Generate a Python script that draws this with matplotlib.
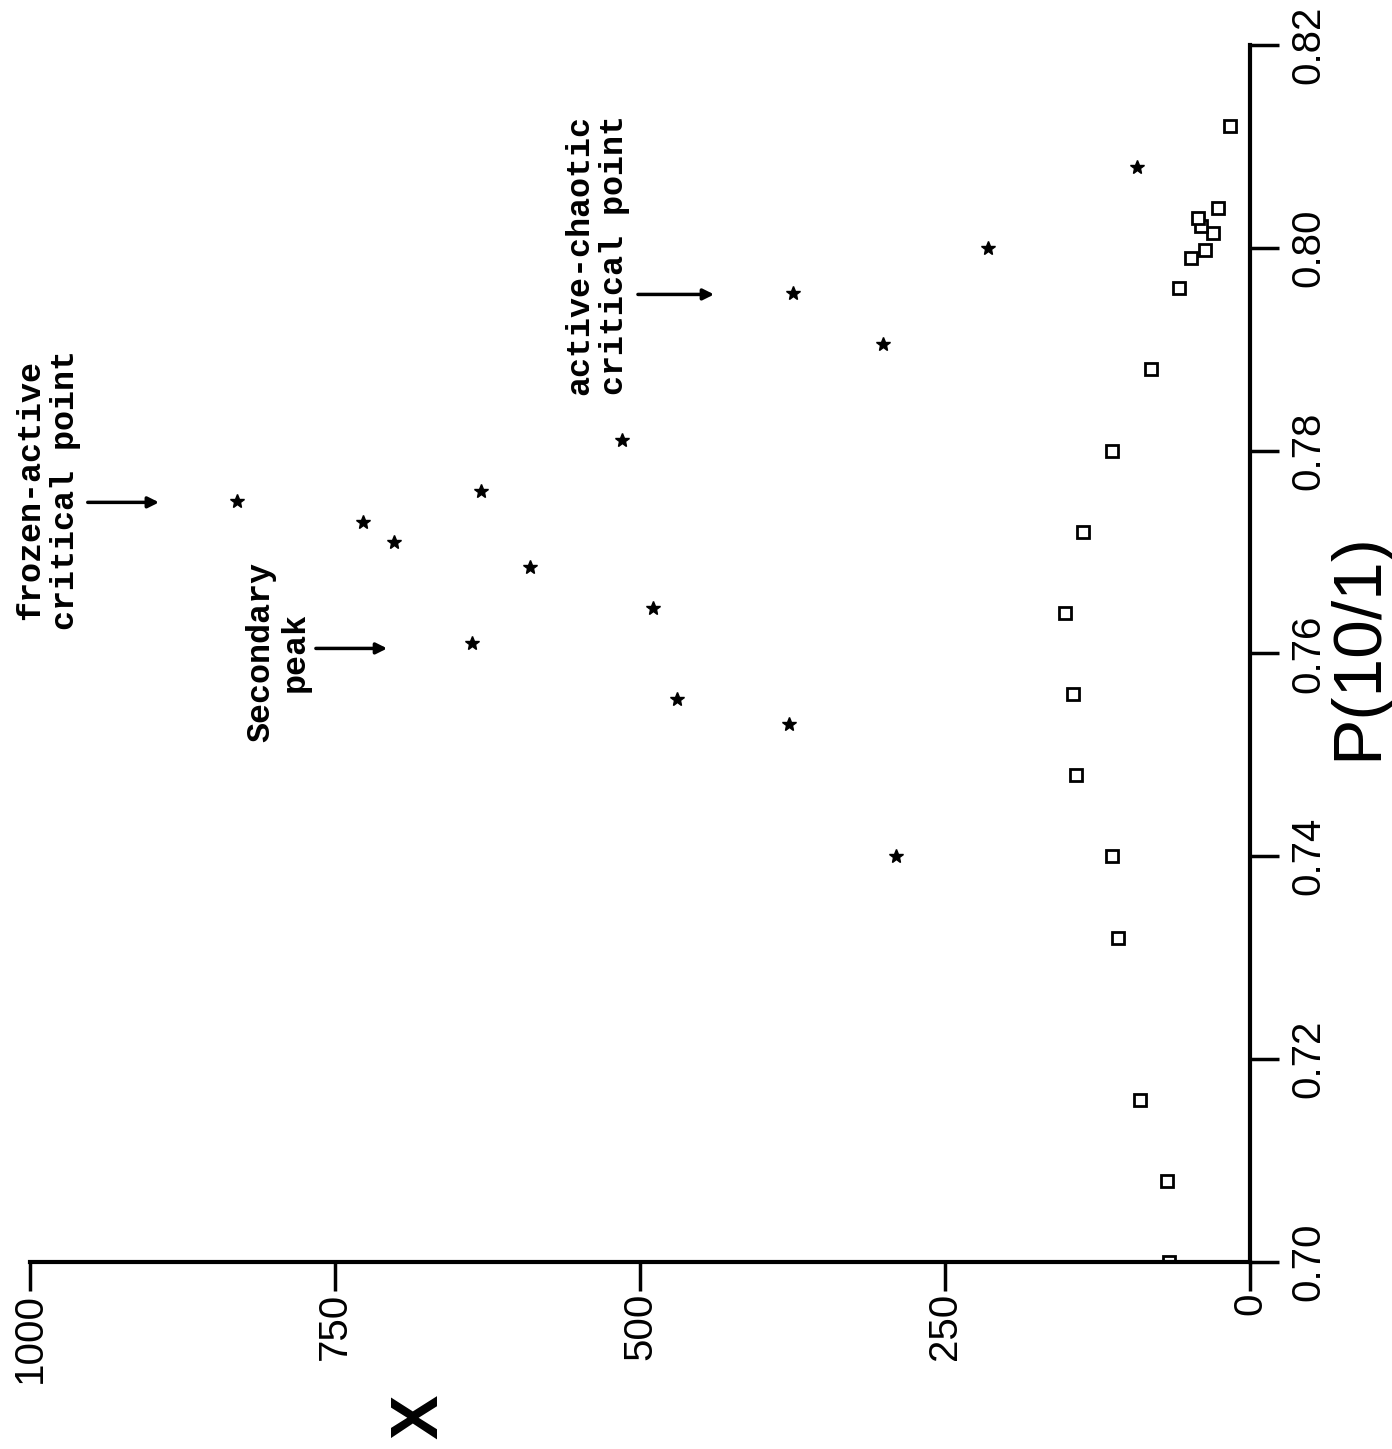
import matplotlib
matplotlib.use("Agg")
import matplotlib.pyplot as plt

star_p = [0.740, 0.753, 0.7555, 0.761, 0.7645, 0.7685, 0.771, 0.773, 0.776, 0.775,
          0.781, 0.7905, 0.7955, 0.800, 0.808]
star_x = [290, 378, 470, 638, 489, 590, 702, 727, 630, 830,
          515, 301, 375, 215, 93]

sq_p = [0.700, 0.708, 0.716, 0.732, 0.740, 0.748, 0.756, 0.764, 0.772, 0.780,
        0.788, 0.796, 0.799, 0.7998, 0.8015, 0.8021, 0.8029, 0.8039, 0.812]
sq_x = [66, 68, 90, 108, 113, 143, 145, 152, 137, 113,
        81, 58, 48, 37, 30, 40, 43, 26, 16]

x_ticks = [1000, 750, 500, 250, 0]
p_ticks = [0.70, 0.72, 0.74, 0.76, 0.78, 0.80, 0.82]

# annotations: text, text position (X, P), arrow start/end X, arrow P
notes = [
    ("frozen-active\ncritical point", 985, 0.7761, 955, 892, 0.7749),
    ("Secondary\npeak", 797, 0.7601, 768, 705, 0.7605),
    ("active-chaotic\ncritical point", 535, 0.7993, 504, 437, 0.7954),
]

fig = plt.figure(figsize=(13.92, 14.49), dpi=100)
ax = fig.add_axes([0.0216, 0.129, 0.8764, 0.840])

ax.plot(star_x, star_p, ls="none", marker="*", ms=10, color="black")
ax.plot(sq_x, sq_p, ls="none", marker="s", ms=8, mfc="white", mec="black", mew=2)

ax.set_xlim(1000, 0)
ax.set_ylim(0.70, 0.82)

for s in ["top", "left"]:
    ax.spines[s].set_visible(False)
for s in ["right", "bottom"]:
    ax.spines[s].set_linewidth(3)

ax.yaxis.tick_right()
ax.set_xticks(x_ticks)
ax.set_xticklabels([str(t) for t in x_ticks])
ax.set_yticks(p_ticks)
ax.set_yticklabels(["%.2f" % t for t in p_ticks])
ax.tick_params(axis="both", direction="out", length=21, width=2.5, labelsize=29)
ax.tick_params(axis="y", pad=7)
ax.tick_params(axis="x", pad=1)

for lbl in ax.get_xticklabels():
    lbl.set_rotation(90)
    lbl.set_ha("center")
    lbl.set_va("top")
    lbl.set_family("Liberation Sans")
for lbl in ax.get_yticklabels():
    lbl.set_rotation(90)
    lbl.set_ha("left")
    lbl.set_va("center")
    lbl.set_family("Liberation Sans")

for txt, tx, tp, ax0, ax1, ap in notes:
    ax.text(tx, tp, txt, rotation=90, ha="center", va="center", multialignment="center",
            family="Liberation Mono", fontweight="bold", fontsize=24, linespacing=1.15)
    ax.annotate("", xy=(ax1, ap), xytext=(ax0, ap),
                arrowprops=dict(arrowstyle="-|>", lw=2.5, color="black", mutation_scale=16))

fig.text(0.302, 0.022, "X", rotation=90, ha="center", va="center",
         family="Liberation Sans", fontweight="bold", fontsize=48)
fig.text(0.976, 0.554, "P(10/1)", rotation=90, ha="center", va="center",
         family="Liberation Sans", fontsize=50)

fig.savefig("out.png", dpi=100)
